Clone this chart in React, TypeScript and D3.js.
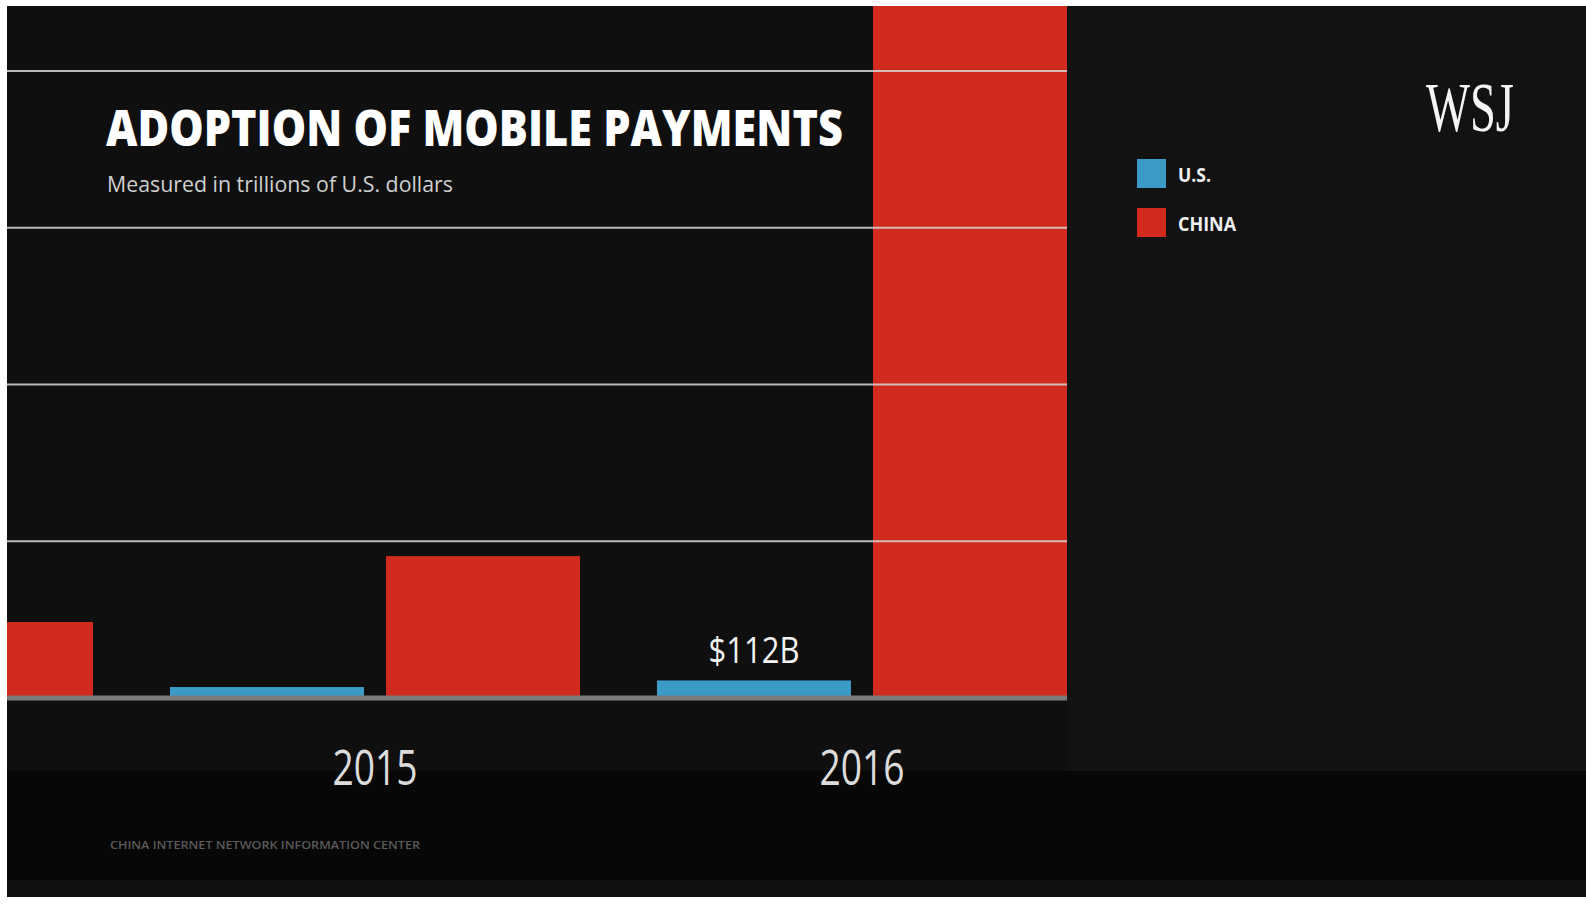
import React, { useEffect, useRef } from 'react';
import * as d3 from 'd3';

const years = ['2014', '2015', '2016'];
const seriesNames = ['U.S.', 'CHINA'];
const usValues = [0.04, 0.07, 0.112];
const chinaValues = [0.485, 0.905, 5.5];
const gridTicks = [1, 2, 3, 4];
const shownYears = ['2015', '2016'];
const valueLabel = { year: '2016', series: 'U.S.', text: '$112B' };

const App: React.FC = () => {
  const chartRef = useRef<SVGSVGElement | null>(null);

  useEffect(() => {
    renderChart();
  }, []);

  const renderChart = () => {
    const W = 1586;
    const H = 905;
    const frame = { left: 7, top: 6, right: 1586, bottom: 897 };
    const plot = { left: 7, right: 1067, top: 6, base: 698 };

    d3.select(chartRef.current).selectAll('*').remove();

    const svg = d3.select(chartRef.current)
      .attr('width', W)
      .attr('height', H);

    svg.append('rect').attr('width', W).attr('height', H).attr('fill', '#ffffff');

    // dark frame with the darker strip at the bottom
    svg.append('rect')
      .attr('x', frame.left).attr('y', frame.top)
      .attr('width', frame.right - frame.left).attr('height', frame.bottom - frame.top)
      .attr('fill', '#121212');
    svg.append('rect')
      .attr('x', plot.left).attr('y', plot.top)
      .attr('width', plot.right - plot.left).attr('height', 765)
      .attr('fill', '#0f0f10');
    svg.append('rect')
      .attr('x', frame.left).attr('y', 771)
      .attr('width', frame.right - frame.left).attr('height', 109)
      .attr('fill', '#070707');
    svg.append('rect')
      .attr('x', frame.left).attr('y', 880)
      .attr('width', frame.right - frame.left).attr('height', frame.bottom - 880)
      .attr('fill', '#101010');

    svg.append('clipPath').attr('id', 'plot-clip')
      .append('rect')
      .attr('x', plot.left).attr('y', plot.top)
      .attr('width', plot.right - plot.left).attr('height', plot.base - plot.top);

    const x = d3.scaleBand()
      .domain(years)
      .range([-317, 1067])
      .paddingInner(0.158)
      .paddingOuter(0);

    const xs = d3.scaleBand()
      .domain(seriesNames)
      .range([0, x.bandwidth()])
      .paddingInner(0.102)
      .paddingOuter(0);

    const y = d3.scaleLinear()
      .domain([0, 4])
      .range([plot.base, 71]);

    const color = d3.scaleOrdinal<string>()
      .domain(seriesNames)
      .range(['#3a9bc6', '#d12b1f']);

    const rows = years.map((yr, i) => ({ year: yr, values: [usValues[i], chinaValues[i]] }));

    const bars = svg.append('g').attr('clip-path', 'url(#plot-clip)');
    rows.forEach(row => {
      row.values.forEach((v, j) => {
        const s = seriesNames[j];
        bars.append('rect')
          .attr('x', x(row.year)! + xs(s)!)
          .attr('y', y(v))
          .attr('width', xs.bandwidth())
          .attr('height', plot.base - y(v))
          .attr('fill', color(s));
      });
    });

    // gridlines sit over the bars
    svg.append('g')
      .selectAll('line')
      .data(gridTicks)
      .enter().append('line')
      .attr('x1', plot.left)
      .attr('x2', plot.right)
      .attr('y1', d => y(d))
      .attr('y2', d => y(d))
      .attr('stroke', '#d6d6d6')
      .attr('stroke-opacity', 0.85)
      .attr('stroke-width', 2);

    // baseline
    svg.append('line')
      .attr('x1', plot.left).attr('x2', plot.right)
      .attr('y1', y(0)).attr('y2', y(0))
      .attr('stroke', '#7a7a7a')
      .attr('stroke-width', 5);

    // value label
    const li = years.indexOf(valueLabel.year);
    svg.append('text')
      .attr('x', x(valueLabel.year)! + xs(valueLabel.series)! + xs.bandwidth() / 2)
      .attr('y', y(usValues[li]) - 17)
      .attr('text-anchor', 'middle')
      .style('font-family', 'Open Sans, sans-serif')
      .style('font-size', '36px')
      .style('fill', '#f2f2f2')
      .attr('textLength', 91)
      .attr('lengthAdjust', 'spacingAndGlyphs')
      .text(valueLabel.text);

    // year labels
    svg.append('g')
      .selectAll('text')
      .data(shownYears)
      .enter().append('text')
      .attr('x', d => x(d)! + x.bandwidth() / 2)
      .attr('y', 785)
      .attr('text-anchor', 'middle')
      .style('font-family', 'Open Sans, sans-serif')
      .style('font-size', '49px')
      .style('fill', '#dcdcdc')
      .attr('textLength', 85)
      .attr('lengthAdjust', 'spacingAndGlyphs')
      .text(d => d);

    // title block
    svg.append('text')
      .attr('x', 106)
      .attr('y', 146)
      .style('font-family', 'Open Sans, sans-serif')
      .style('font-size', '49px')
      .style('font-weight', 800)
      .style('fill', '#ffffff')
      .attr('textLength', 737)
      .attr('lengthAdjust', 'spacingAndGlyphs')
      .text('ADOPTION OF MOBILE PAYMENTS');

    svg.append('text')
      .attr('x', 107)
      .attr('y', 192)
      .style('font-family', 'Open Sans, sans-serif')
      .style('font-size', '21px')
      .style('fill', '#cfcfcf')
      .attr('textLength', 346)
      .attr('lengthAdjust', 'spacingAndGlyphs')
      .text('Measured in trillions of U.S. dollars');

    // legend
    const legend = svg.append('g').attr('transform', 'translate(1137, 159)');
    seriesNames.forEach((s, i) => {
      const item = legend.append('g').attr('transform', `translate(0, ${i * 49})`);
      item.append('rect')
        .attr('width', 29)
        .attr('height', 29)
        .attr('fill', color(s));
      item.append('text')
        .attr('x', 41)
        .attr('y', 23)
        .style('font-family', 'Open Sans, sans-serif')
        .style('font-size', '19px')
        .style('font-weight', 700)
        .style('fill', '#f0f0f0')
        .attr('textLength', s === 'CHINA' ? 58 : 33)
        .attr('lengthAdjust', 'spacingAndGlyphs')
        .text(s);
    });

    // logo
    svg.append('text')
      .attr('x', 1426)
      .attr('y', 131)
      .style('font-family', 'Liberation Serif, serif')
      .style('font-size', '70px')
      .style('fill', '#f4f4f4')
      .attr('textLength', 88)
      .attr('lengthAdjust', 'spacingAndGlyphs')
      .text('WSJ');

    // source
    svg.append('text')
      .attr('x', 110)
      .attr('y', 849)
      .style('font-family', 'Open Sans, sans-serif')
      .style('font-size', '11px')
      .style('font-weight', 600)
      .style('fill', '#5a5a5a')
      .attr('textLength', 310)
      .attr('lengthAdjust', 'spacingAndGlyphs')
      .text('CHINA INTERNET NETWORK INFORMATION CENTER');
  };

  return (
    <div style={{ position: 'absolute', left: 0, top: 0 }}>
      <svg ref={chartRef} style={{ display: 'block' }}></svg>
    </div>
  );
};

export default App;
